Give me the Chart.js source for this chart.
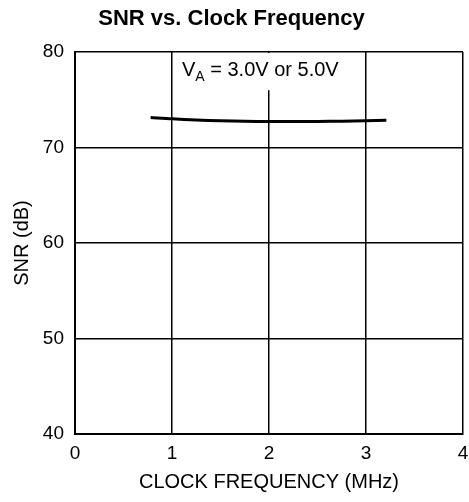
<!DOCTYPE html>
<html><head><meta charset="utf-8">
<script src="https://cdn.jsdelivr.net/npm/chart.js@4/dist/chart.umd.min.js"></script>
<style>html,body{margin:0;padding:0;background:#fff}#wrap{width:469px;height:502px}</style>
</head><body><div id="wrap"><canvas id="c"></canvas></div>
<script>
const freqMHz = [0.78, 1.0, 1.25, 1.5, 1.75, 2.0, 2.25, 2.5, 2.75, 3.0, 3.21];
const snrDb   = [73.15, 73.0, 72.88, 72.8, 72.75, 72.72, 72.72, 72.73, 72.76, 72.8, 72.85];
const xTicks = [0, 1, 2, 3, 4];
const yTicks = [40, 50, 60, 70, 80];
const titleText = 'SNR vs. Clock Frequency';
const xTitle = 'CLOCK FREQUENCY (MHz)';
const yTitle = 'SNR (dB)';
const noteMain = 'V', noteSub = 'A', noteRest = ' = 3.0V or 5.0V';
const noteX = [1, 3], noteY = [80, 76.1];

const FONT = "'Liberation Sans', Arial, sans-serif";

const notePlugin = {
  id: 'note',
  afterDatasetsDraw(chart) {
    const {ctx, scales:{x, y}} = chart;
    const x0 = x.getPixelForValue(noteX[0]), x1 = x.getPixelForValue(noteX[1]);
    const y0 = y.getPixelForValue(noteY[0]), y1 = y.getPixelForValue(noteY[1]);
    ctx.save();
    ctx.fillStyle = '#fff';
    ctx.fillRect(x0 + 1, y0 + 1, x1 - x0 - 2, y1 - y0);
    ctx.fillStyle = '#000';
    ctx.textBaseline = 'alphabetic';
    const big = '20px ' + FONT, small = '14px ' + FONT;
    ctx.font = big;
    const wV = ctx.measureText(noteMain).width;
    const wR = ctx.measureText(noteRest).width;
    ctx.font = small;
    const wA = ctx.measureText(noteSub).width;
    const sx = x0 + 10;
    const base = y0 + 24;
    ctx.font = big;
    ctx.fillText(noteMain, sx, base);
    ctx.font = small;
    ctx.fillText(noteSub, sx + wV, base + 5);
    ctx.font = big;
    ctx.fillText(noteRest, sx + wV + wA, base);
    ctx.restore();
  }
};

new Chart(document.getElementById('c'), {
  type: 'line',
  data: {
    datasets: [{
      data: freqMHz.map((f, i) => ({x: f, y: snrDb[i]})),
      borderColor: '#000',
      borderWidth: 3,
      pointRadius: 0,
      tension: 0.3,
      fill: false
    }]
  },
  options: {
    responsive: true,
    maintainAspectRatio: false,
    animation: false,
    layout: {padding: {left: 0, right: 6, top: 0, bottom: 0}},
    plugins: {
      legend: {display: false},
      tooltip: {enabled: false},
      title: {
        display: true,
        text: titleText,
        color: '#000',
        font: {family: FONT, size: 22, weight: 'bold'},
        padding: {top: 6, bottom: 19.6}
      }
    },
    scales: {
      x: {
        type: 'linear',
        min: 0, max: 4,
        afterBuildTicks(s) { s.ticks = xTicks.map(v => ({value: v})); },
        afterFit(s) { s.height = 68; s.paddingRight = 0; s.paddingLeft = 0; },
        grid: {color: '#000', lineWidth: 1.5, drawTicks: false},
        border: {color: '#000', width: 2},
        ticks: {color: '#000', font: {family: FONT, size: 19}, padding: 8, maxRotation: 0},
        title: {display: true, text: xTitle, color: '#000', font: {family: FONT, size: 20}, padding: {top: 0, bottom: 8}}
      },
      y: {
        type: 'linear',
        min: 40, max: 80,
        afterBuildTicks(s) { s.ticks = yTicks.map(v => ({value: v})); },
        afterFit(s) { s.width = 75; },
        grid: {color: '#000', lineWidth: 1.5, drawTicks: false},
        border: {color: '#000', width: 2},
        ticks: {color: '#000', font: {family: FONT, size: 19}, padding: 11},
        title: {display: true, text: yTitle, color: '#000', font: {family: FONT, size: 20}, padding: {top: 10, bottom: 0}}
      }
    }
  },
  plugins: [notePlugin]
});
</script></body></html>
